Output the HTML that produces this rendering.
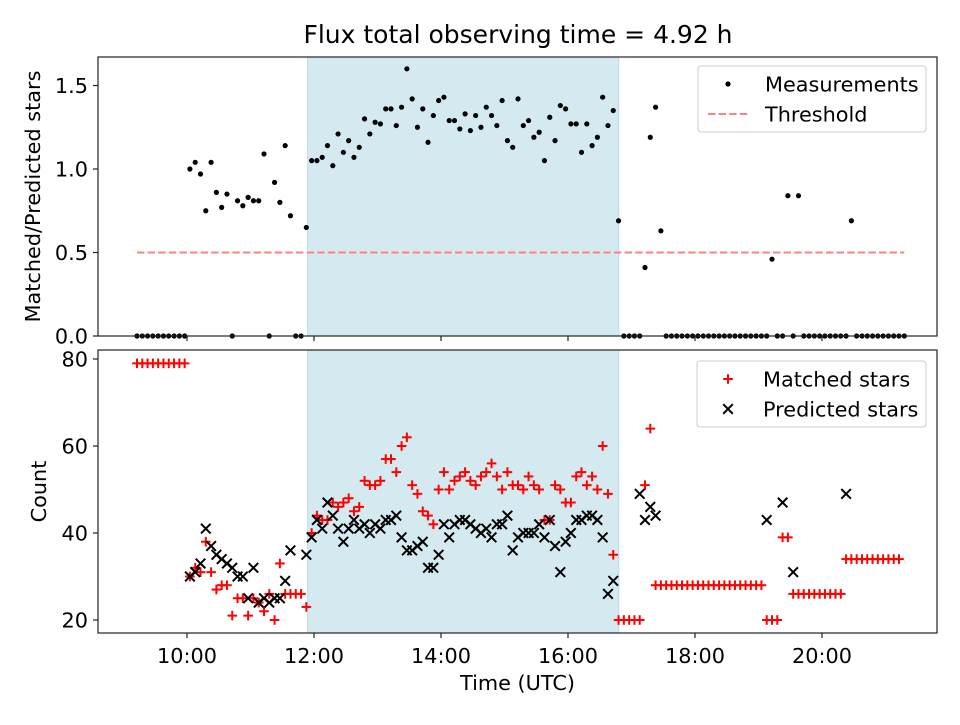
<!DOCTYPE html>
<html><head><meta charset="utf-8"><style>
body{margin:0;background:#fff}
svg{font-family:"DejaVu Sans","Liberation Sans",sans-serif}
</style></head><body>
<svg id="c" width="960" height="720" viewBox="0 0 960 720"></svg>
<script>
// ---- data ----
const tickHours = [10,12,14,16,18,20];
const tickLabels = ["10:00","12:00","14:00","16:00","18:00","20:00"];
const ratioTicks = [0.0,0.5,1.0,1.5];
const countTicks = [20,40,60,80];
const shadeStart = 11.9, shadeEnd = 16.8;
const threshold = 0.5;
const startHour = 9.2126, stepMinutes = 5;
const ratio = [0,0,0,0,0,0,0,0,0,0,1.00,1.04,0.97,0.75,1.04,0.86,0.77,0.85,0,0.81,0.78,0.83,0.81,0.81,1.09,0,0.92,0.80,1.14,0.72,0,0,0.65,
1.05,1.05,1.07,1.14,1.02,1.21,1.10,1.17,1.07,1.13,1.30,1.21,1.28,1.27,1.36,1.36,1.26,1.37,1.60,1.42,1.25,1.36,1.16,1.32,1.41,1.43,1.29,1.29,1.24,1.33,1.23,1.32,1.25,1.37,1.32,1.26,1.41,1.17,1.13,1.42,1.26,1.29,1.19,1.22,1.05,1.31,1.17,1.38,1.36,1.27,1.27,1.10,1.27,1.14,1.19,1.43,1.26,1.35,0.69,
0,0,0,0,0.41,1.19,1.37,0.63,0,0,0,0,0,0,0,0,0,0,0,0,0,0,0,0,0,0,0,0,0.46,0,0,0.84,0,0.84,0,0,0,0,0,0,0,0,0,0.69,0,0,0,0,0,0,0,0,0,0];
const matched = [79,79,79,79,79,79,79,79,79,79,30,32,31,38,31,27,28,28,21,25,25,21,25,24,22,26,20,33,26,26,26,26,23,
40,44,43,43,47,46,47,48,45,46,52,51,51,52,57,57,54,60,62,51,49,45,44,42,50,54,50,52,53,54,52,51,53,54,56,53,50,54,51,51,50,53,51,50,43,43,51,50,47,47,53,54,51,53,50,60,49,35,
20,20,20,20,20,51,64,28,28,28,28,28,28,28,28,28,28,28,28,28,28,28,28,28,28,28,28,28,20,20,20,39,39,26,26,26,26,26,26,26,26,26,26,34,34,34,34,34,34,34,34,34,34,34];
const predicted = [null,null,null,null,null,null,null,null,null,null,30,31,33,41,37,35,34,33,32,30,30,25,32,24,25,24,25,25,29,36,null,null,35,
39,43,41,47,44,41,38,41,43,41,42,40,42,41,43,43,44,39,36,36,37,38,32,32,35,42,39,42,43,43,42,41,40,41,39,42,42,44,36,39,40,40,40,42,39,43,37,31,38,40,43,43,44,44,43,39,26,29,
null,null,null,null,49,43,46,44,null,null,null,null,null,null,null,null,null,null,null,null,null,null,null,null,null,null,null,null,43,null,null,47,null,31,null,null,null,null,null,null,null,null,null,49,null,null,null,null,null,null,null,null,null,null];

// ---- axes ----
const L=98,R=937, T1=57,B1=336, T2=350,B2=633;
const FS=20.8;
const xs = h => 187 + (h-10)*63.5;
const y1 = v => 336 - v*167;
const y2 = v => 620 - (v-20)*4.35;
const tOf = i => startHour + i*stepMinutes/60;
const NS="http://www.w3.org/2000/svg";
const svg=document.getElementById('c');
function mk(tag,attrs,parent){const e=document.createElementNS(NS,tag);for(const k in attrs)e.setAttribute(k,attrs[k]);(parent||svg).appendChild(e);return e;}
function txt(s,attrs,parent){const e=mk('text',attrs,parent);e.textContent=s;return e;}

const title=txt("Flux total observing time = 4.92 h",{x:518,y:43,'font-size':'25','text-anchor':'middle',fill:'#000'});



function panel(T,B,name){
  const g=mk('g',{});
  
  
  const sh=mk('rect',{x:xs(shadeStart),y:T,width:xs(shadeEnd)-xs(shadeStart),height:B-T,fill:'#d4eaf0',stroke:'#b9dce6','stroke-width':1},g);
  
  
  return g;
}
function frame(g,T,B,labels){
  mk('rect',{x:L,y:T,width:R-L,height:B-T,fill:'none',stroke:'#222','stroke-width':1.2},g);
  tickHours.forEach((h,i)=>{
    mk('line',{x1:xs(h),x2:xs(h),y1:B,y2:B+5,stroke:'#222','stroke-width':1.2},g);
    if(labels){const t=txt(tickLabels[i],{x:xs(h),y:B+30,'font-size':FS,'text-anchor':'middle'},g);
      
      }
  });
}

// top panel
const g1=panel(T1,B1,'ratio-panel');
const th=mk('line',{x1:xs(tOf(0)),x2:xs(tOf(145)),y1:y1(threshold),y2:y1(threshold),stroke:'#ff8080','stroke-width':2,'stroke-dasharray':'7.4,3.2'},g1);


ratio.forEach((v,i)=>{ if(v===null)return;
  const c=mk('circle',{cx:xs(tOf(i)),cy:y1(v),r:2.6,fill:'#000'},g1);
  
  
});
frame(g1,T1,B1,false);
ratioTicks.forEach(v=>{
  mk('line',{x1:L-5,x2:L,y1:y1(v),y2:y1(v),stroke:'#222','stroke-width':1.2},g1);
  const t=txt(v.toFixed(1),{x:L-10,y:y1(v)+7.5,'font-size':FS,'text-anchor':'end'},g1);
  
  
});
const yl1=txt("Matched/Predicted stars",{x:0,y:0,'font-size':FS,'text-anchor':'middle',transform:`translate(40,${(T1+B1)/2}) rotate(-90)`},g1);



// legend top
const lg1=mk('g',{});


mk('rect',{x:698,y:66,width:228,height:66,rx:3,fill:'#fff','fill-opacity':0.8,stroke:'#ccc'},lg1);
mk('circle',{cx:728,cy:84,r:2.6,fill:'#000'},lg1);
txt("Measurements",{x:765,y:91.5,'font-size':FS},lg1);
mk('line',{x1:708,x2:748,y1:114,y2:114,stroke:'#ff8080','stroke-width':2,'stroke-dasharray':'7.4,3.2'},lg1);
txt("Threshold",{x:765,y:121.5,'font-size':FS},lg1);

// bottom panel
const g2=panel(T2,B2,'count-panel');
function plus(x,y,p){const g=mk('g',{stroke:'#ff0000','stroke-width':2},p);
  mk('line',{x1:x-4.8,x2:x+4.8,y1:y,y2:y},g);mk('line',{x1:x,x2:x,y1:y-4.8,y2:y+4.8},g);return g;}
function cross(x,y,p){const g=mk('g',{stroke:'#000','stroke-width':2},p);
  mk('line',{x1:x-4.8,x2:x+4.8,y1:y-4.8,y2:y+4.8},g);mk('line',{x1:x-4.8,x2:x+4.8,y1:y+4.8,y2:y-4.8},g);return g;}
matched.forEach((v,i)=>{ if(v===null)return;
  const m=plus(xs(tOf(i)),y2(v),g2);
  
  
});
predicted.forEach((v,i)=>{ if(v===null)return;
  const m=cross(xs(tOf(i)),y2(v),g2);
  
  
});
frame(g2,T2,B2,true);
countTicks.forEach(v=>{
  mk('line',{x1:L-5,x2:L,y1:y2(v),y2:y2(v),stroke:'#222','stroke-width':1.2},g2);
  const t=txt(String(v),{x:L-10,y:y2(v)+7.5,'font-size':FS,'text-anchor':'end'},g2);
  
  
});
const yl2=txt("Count",{x:0,y:0,'font-size':FS,'text-anchor':'middle',transform:`translate(46,${(T2+B2)/2}) rotate(-90)`},g2);


const xl=txt("Time (UTC)",{x:(L+R)/2,y:690,'font-size':FS,'text-anchor':'middle'},g2);



// legend bottom
const lg2=mk('g',{});


mk('rect',{x:697,y:361,width:229,height:66,rx:3,fill:'#fff','fill-opacity':0.8,stroke:'#ccc'},lg2);
plus(728,379,lg2);
txt("Matched stars",{x:763,y:386.5,'font-size':FS},lg2);
cross(728,409,lg2);
txt("Predicted stars",{x:763,y:416.5,'font-size':FS},lg2);
</script>
</body></html>
